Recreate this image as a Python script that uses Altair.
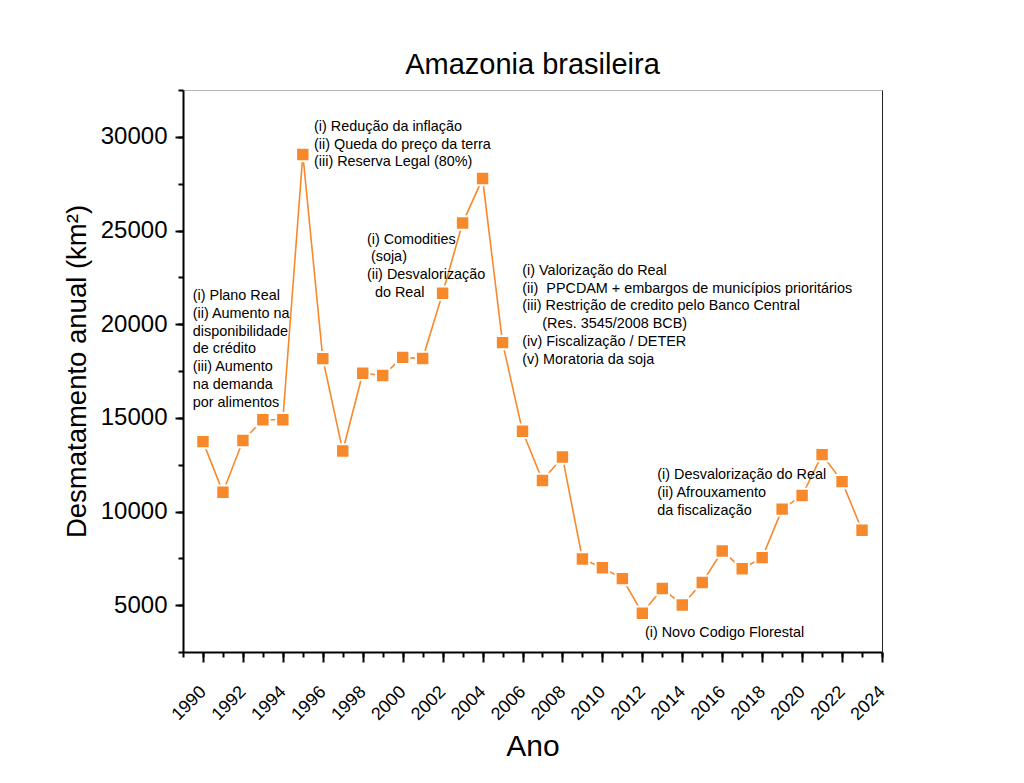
import altair as alt
import pandas as pd

# ---- data ----
years = list(range(1990, 2024))
desmatamento = [13730, 11030, 13786, 14896, 14896, 29059, 18161, 13227, 17383, 17259,
                18226, 18165, 21651, 25396, 27772, 19014, 14286, 11651, 12911, 7464,
                7000, 6418, 4571, 5891, 5012, 6207, 7893, 6947, 7536, 10129,
                10851, 13038, 11594, 9001]

x_major = list(range(1990, 2025, 2))
x_minor = list(range(1989, 2025, 1))
y_major = [5000, 10000, 15000, 20000, 25000, 30000]
y_minor = list(range(2500, 32501, 2500))

# zero-width space keeps the non-breaking indent from being trimmed
IND = "\u200b"
NB = "\u00a0"
ann_year = [1989.49, 1995.56, 1998.21, 2005.99, 2012.75, 2012.13]
ann_value = [21272, 30321, 24297, 22622, 11722, 3309]
ann_lines = [
    ["(i) Plano Real", "(ii) Aumento na", "disponibilidade", "de crédito",
     "(iii) Aumento", "na demanda", "por alimentos"],
    ["(i) Redução da inflação", "(ii) Queda do preço da terra", "(iii) Reserva Legal (80%)"],
    ["(i) Comodities", IND + NB + "(soja)", "(ii) Desvalorização", IND + NB * 2 + "do Real"],
    ["(i) Valorização do Real",
     "(ii)" + NB * 2 + "PPCDAM + embargos de municípios prioritários",
     "(iii) Restrição de credito pelo Banco Central",
     IND + NB * 5 + "(Res. 3545/2008 BCB)",
     "(iv) Fiscalização / DETER",
     "(v) Moratoria da soja"],
    ["(i) Desvalorização do Real", "(ii) Afrouxamento", "da fiscalização"],
    ["(i) Novo Codigo Florestal"],
]

df = pd.DataFrame({"ano": years, "valor": desmatamento})
ann = pd.DataFrame({"ano": ann_year, "valor": ann_value, "linhas": ann_lines})

ORANGE = "#F7892B"
FONT = "Liberation Sans"

xscale = alt.Scale(domain=[1989, 2024], nice=False, zero=False)
yscale = alt.Scale(domain=[2500, 32500], nice=False, zero=False)

x_main_axis = alt.Axis(
    orient="bottom", values=x_major, format="d", labelAngle=-45, labelAlign="right",
    labelBaseline="middle", labelPadding=27, labelFont=FONT, labelFontSize=18,
    labelOverlap=False, labelBound=False,
    labelColor="black", tickSize=10, tickWidth=2, tickColor="black",
    domainWidth=2, domainColor="black", grid=False, title="Ano", titleFont=FONT,
    titleFontSize=30, titleFontWeight="normal", titleColor="black", titlePadding=8,
)
y_main_axis = alt.Axis(
    orient="left", values=y_major, format="d", labelFont=FONT, labelFontSize=24,
    labelColor="black", labelPadding=8, tickSize=8, tickWidth=2, tickColor="black",
    domainWidth=2, domainColor="black", grid=False,
    title="Desmatamento anual (km²)", titleFont=FONT, titleFontSize=27.5,
    titleFontWeight="normal", titleColor="black", titlePadding=9,
)
x_minor_axis = alt.Axis(orient="bottom", values=x_minor, labels=False, tickSize=5,
                        tickWidth=2, tickColor="black", domain=False, grid=False, title=None)
y_minor_axis = alt.Axis(orient="left", values=y_minor, labels=False, tickSize=5,
                        tickWidth=2, tickColor="black", domain=False, grid=False, title=None)
x_top_axis = alt.Axis(orient="top", labels=False, ticks=False, domainColor="#b5b5b5",
                      domainWidth=1, grid=False, title=None)
y_right_axis = alt.Axis(orient="right", labels=False, ticks=False, domainColor="#222222",
                        domainWidth=1, grid=False, title=None)

line = alt.Chart(df).mark_line(color=ORANGE, strokeWidth=1.6).encode(
    x=alt.X("ano:Q", scale=xscale, axis=x_main_axis),
    y=alt.Y("valor:Q", scale=yscale, axis=y_main_axis),
)

points = alt.Chart(df).mark_square(size=180, color=ORANGE, opacity=1, filled=True,
                                   stroke="white", strokeWidth=2).encode(
    x=alt.X("ano:Q", scale=xscale, axis=x_minor_axis),
    y=alt.Y("valor:Q", scale=yscale, axis=y_minor_axis),
)

texts = alt.Chart(ann).mark_text(align="left", baseline="alphabetic", font=FONT,
                                 fontSize=14.4, lineHeight=17.7, color="black").encode(
    x=alt.X("ano:Q", scale=xscale, axis=x_top_axis),
    y=alt.Y("valor:Q", scale=yscale, axis=y_right_axis),
    text=alt.Text("linhas:N"),
)

chart = alt.layer(line, points, texts).resolve_axis(
    x="independent", y="independent"
).properties(
    width=699, height=562,
    padding={"left": 183, "top": 90, "right": 142, "bottom": 131},
    autosize=alt.AutoSizeParams(type="none"),
    title=alt.TitleParams("Amazonia brasileira", font=FONT, fontSize=29,
                          fontWeight="normal", color="black", offset=9, anchor="middle"),
).configure_view(stroke=None).configure(background="white")

chart.save("out.html", embed_options={"renderer": "svg", "actions": False})
